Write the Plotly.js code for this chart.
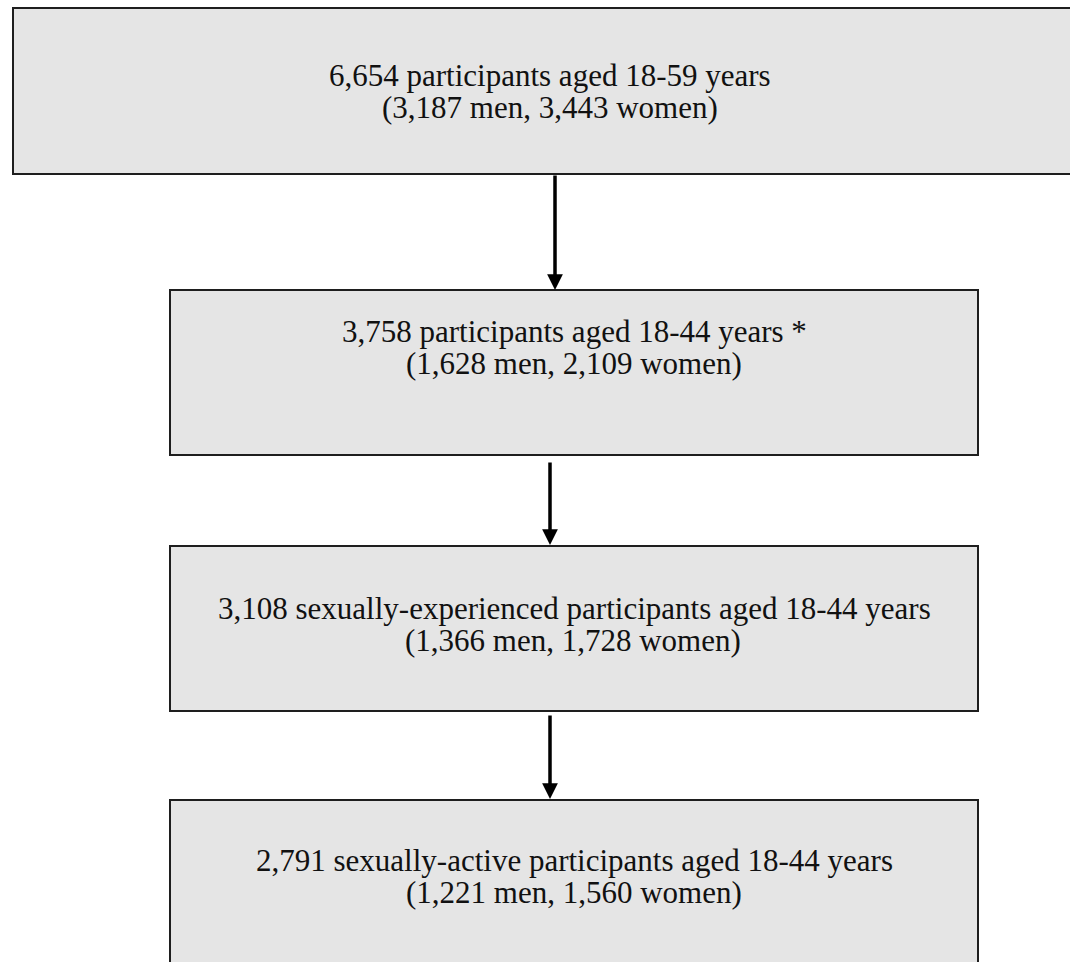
<!DOCTYPE html>
<html>
<head>
<meta charset="utf-8">
<script src="https://cdn.plot.ly/plotly-3.0.1.min.js"></script>
<style>html,body{margin:0;padding:0;background:#fff;}#chart{width:1070px;height:962px;}</style>
</head>
<body>
<div id="chart"></div>
<script>
// Flow counts and labels
const stepTotals = ["6,654", "3,758", "3,108", "2,791"];
const stepDescriptions = [
  "participants aged 18-59 years",
  "participants aged 18-44 years *",
  "sexually-experienced participants aged 18-44 years",
  "sexually-active participants aged 18-44 years"
];
const menCounts = ["3,187", "1,628", "1,366", "1,221"];
const womenCounts = ["3,443", "2,109", "1,728", "1,560"];

// Layout geometry (pixel-like axis units)
const boxes = [
  {x0: 13, x1: 1087, y0: 8, y1: 174, c1: 550, c2: 550, l1: 75, l2: 107},
  {x0: 170, x1: 978, y0: 290, y1: 455, c1: 574, c2: 574, l1: 331, l2: 363},
  {x0: 170, x1: 978, y0: 546, y1: 711, c1: 574, c2: 573, l1: 608.5, l2: 640.5},
  {x0: 170, x1: 978, y0: 800, y1: 980, c1: 574, c2: 574, l1: 860.5, l2: 892.5}
];
const arrows = [
  {x: 555, y0: 174, y1: 290},
  {x: 550, y0: 461, y1: 545},
  {x: 550, y0: 714, y1: 799}
];

const shapes = boxes.map(b => ({
  type: 'rect', xref: 'x', yref: 'y',
  x0: b.x0, x1: b.x1, y0: b.y0, y1: b.y1,
  fillcolor: '#e5e5e5', line: {color: '#1e1e1e', width: 2}, layer: 'below'
}));

const font = {family: 'Liberation Serif, Times New Roman, serif', size: 31, color: '#111'};
const annotations = [];
boxes.forEach((b, i) => {
  annotations.push({x: b.c1, y: b.l1, xref: 'x', yref: 'y', showarrow: false,
    text: stepTotals[i] + ' ' + stepDescriptions[i], font: font});
  annotations.push({x: b.c2, y: b.l2, xref: 'x', yref: 'y', showarrow: false,
    text: '(' + menCounts[i] + ' men, ' + womenCounts[i] + ' women)', font: font});
});
arrows.forEach(a => {
  annotations.push({x: a.x, y: a.y1, ax: a.x, ay: a.y0, xref: 'x', yref: 'y',
    axref: 'x', ayref: 'y', showarrow: true, arrowhead: 2, arrowsize: 0.9,
    arrowwidth: 3.5, arrowcolor: '#000', text: ''});
});

Plotly.newPlot('chart', [], {
  width: 1070, height: 962,
  margin: {l: 0, r: 0, t: 0, b: 0},
  paper_bgcolor: '#fff', plot_bgcolor: '#fff',
  xaxis: {range: [0, 1070], visible: false, fixedrange: true},
  yaxis: {range: [962, 0], visible: false, fixedrange: true},
  shapes: shapes, annotations: annotations, showlegend: false
}, {staticPlot: true, displayModeBar: false});
</script>
</body>
</html>
